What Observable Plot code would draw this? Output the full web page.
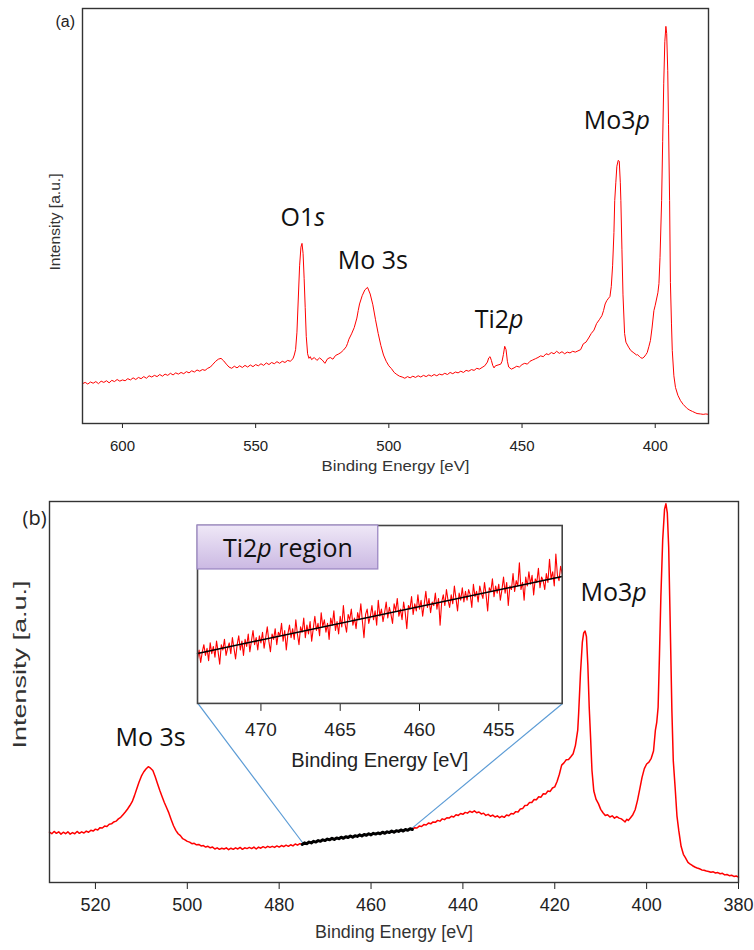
<!DOCTYPE html>
<html><head><meta charset="utf-8">
<script src="https://cdn.jsdelivr.net/npm/d3@7"></script>
<script src="https://cdn.jsdelivr.net/npm/@observablehq/plot@0.6"></script>
<style>
body{margin:0;background:#fff;}
#wrap{position:relative;width:754px;height:950px;overflow:hidden;background:#fff;}
</style></head><body><div id="wrap"></div>
<script>
// ---------- DATA ----------
const tickA = [600, 550, 500, 450, 400];
const tickB = [520, 500, 480, 460, 440, 420, 400, 380];
const tickInset = [470, 465, 460, 455];
const xLabel = "Binding Energy [eV]";
const yLabel = "Intensity [a.u.]";

// panel (a): [binding energy eV, intensity a.u.]
const specA = [[615,9.6],[614,9.9],[613,9.5],[612,10.0],[611,9.7],[610,10.1],[609,9.6],[608,10.2],[607,9.9],[606,10.3],[605,9.8],[604,10.4],[603,10.1],[602,10.6],[601,10.2],[600,10.5],[599,10.3],[598,10.8],[597,10.5],[596,11.0],[595,10.6],[594,11.1],[593,10.8],[592,11.3],[591,10.9],[590,11.5],[589,11.2],[588,11.6],[587,11.3],[586,11.8],[585,11.4],[584,11.9],[583,11.6],[582,12.1],[581,11.7],[580,12.2],[579,11.9],[578,12.3],[577,12.0],[576,12.5],[575,12.2],[574,12.7],[573,12.4],[572,12.9],[571,12.6],[570,13.0],[569,12.8],[568,13.3],[567,13.6],[566,14.3],[565,15.0],[564,15.5],[563,15.7],[562,15.1],[561,14.3],[560,13.6],[559,13.3],[558,13.8],[557,13.4],[556,13.9],[555,13.5],[554,14.0],[553,13.6],[552,14.1],[551,13.7],[550,14.2],[549,13.9],[548,14.4],[547,14.0],[546,14.6],[545,14.2],[544,14.7],[543,14.4],[542,14.9],[541,14.5],[540,15.0],[539,14.7],[538,15.2],[537,15.0],[536,15.6],[535.5,16.5],[535,17.8],[534.5,22],[534,30],[533.5,38],[533,42.5],[532.6,43.4],[532.2,41],[531.8,35],[531.4,28],[531,21],[530.5,16.8],[530,15.7],[529.5,16.1],[529,15.4],[528,15.9],[527,15.2],[526,15.8],[525,15.3],[524,14.5],[523,15.6],[522,15.9],[521,15.5],[520,16.4],[519,16.7],[518,17.1],[517,17.7],[516,18.5],[515.5,19.3],[515,20.3],[514,21.6],[513,23.1],[512,25.4],[511.5,27.2],[511,28.8],[510,30.8],[509,32.2],[508,32.8],[507,31.2],[506,28.6],[505,25.0],[504,21.7],[503,18.8],[502,16.5],[501,15.0],[500,13.9],[499,13.2],[498,12.3],[497,11.8],[496,11.4],[495,11.2],[494,10.9],[493,11.3],[492,11.0],[491,11.4],[490,11.1],[489,11.5],[488,11.2],[487,11.6],[486,11.3],[485,11.7],[484,11.4],[483,11.8],[482,11.5],[481,11.9],[480,11.7],[479,12.1],[478,11.8],[477,12.3],[476,12.0],[475,12.4],[474,12.2],[473,12.6],[472,12.3],[471,12.8],[470,12.6],[469,13.0],[468,12.8],[467,13.3],[466,13.1],[465,13.5],[464,13.9],[463,14.8],[462.5,15.8],[462,16.1],[461.5,15.2],[461,14.0],[460.5,13.4],[460,13.9],[459,14.1],[458,14.3],[457.5,15.0],[457,16.6],[456.5,18.6],[456,17.8],[455.5,15.0],[455,13.6],[454,13.1],[453,13.4],[452,13.8],[451,13.6],[450,14.2],[449,14.5],[448,14.3],[447,15.0],[446,15.3],[445,15.6],[444,15.9],[443,16.3],[442,16.1],[441,16.8],[440,16.6],[439,17.1],[438,16.8],[437,17.4],[436,16.9],[435,17.3],[434,16.8],[433,17.2],[432,17.0],[431,17.4],[430,17.2],[429,17.5],[428,17.8],[427,19.2],[426,19.6],[425,20.6],[424,21.7],[423,22.5],[422,24.1],[421,25.0],[420,26.0],[419.4,27.2],[418.8,28.8],[418.2,29.6],[417.5,30.2],[417,30.6],[416.5,33],[416,38],[415.5,46],[415.2,53.7],[414.8,58],[414.4,62],[413.9,63.4],[413.5,63.2],[413.1,58],[412.9,53.7],[412.5,42],[412.1,31],[411.5,21.7],[411,19.6],[410,18.4],[409.2,17.6],[408,17.0],[407,16.5],[406.7,16.6],[406,16.2],[405.5,15.9],[404.9,15.7],[404.2,16.0],[403.5,16.6],[403,17.1],[402.4,18.5],[401.8,20.0],[401.2,23.0],[400.5,27.2],[400,28.5],[399.5,30],[399,31.5],[398.6,33.7],[398.2,40],[397.6,53.7],[397.2,68],[396.8,82],[396.4,92],[396.0,95.7],[395.7,94],[395.3,85],[395,72],[394.6,53.7],[394.3,34],[393.9,24],[393.6,17.6],[393.0,11.5],[392.4,8.7],[391.5,6.8],[390.5,5.5],[389.5,4.6],[388,3.6],[387,3.2],[386,2.9],[385,2.6],[384.3,2.4],[383,2.3],[382,2.2],[381,2.3],[380,2.2]];

// panel (b): [binding energy eV, intensity a.u.]
const specB = [[530,13.2],[529.5,12.8],[529,13.4],[528.5,12.9],[528,13.3],[527.5,12.7],[527,13.2],[526.5,12.8],[526,13.3],[525.5,12.7],[525,13.1],[524.5,12.8],[524,13.4],[523.5,12.9],[523,13.3],[522.5,13.0],[522,13.5],[521.5,13.2],[521,13.7],[520.5,13.5],[520,14.0],[519.5,13.8],[519,14.4],[518.5,14.3],[518,14.8],[517.5,14.7],[517,15.3],[516.5,15.4],[516,15.9],[515.5,16.1],[515,16.7],[514.5,17.1],[514,17.8],[513.5,18.5],[513,19.3],[512.5,20.2],[512,21.2],[511.5,22.8],[511,24.6],[510.5,26.4],[510,27.9],[509.5,29.0],[509,29.8],[508.5,30.4],[508,30.0],[507.5,29.4],[507,27.8],[506.5,26.0],[506,24.2],[505.5,22.6],[505,21.0],[504.5,19.6],[504,18.2],[503.5,16.5],[503,14.9],[502.5,13.7],[502,12.8],[501.5,12.3],[501,11.5],[500.5,11.2],[500,10.8],[499.5,10.6],[499,10.2],[498.5,10.3],[498,9.9],[497.5,10.0],[497,9.6],[496.5,9.7],[496,9.3],[495.5,9.5],[495,9.1],[494.5,9.3],[494,8.8],[493.5,9.1],[493,8.7],[492.5,9.0],[492,8.8],[491.5,9.1],[491,8.6],[490.5,9.0],[490,8.7],[489.5,9.1],[489,8.8],[488.5,9.2],[488,8.7],[487.5,9.1],[487,8.9],[486.5,9.2],[486,8.9],[485.5,9.3],[485,8.8],[484.5,9.3],[484,9.0],[483.5,9.4],[483,9.1],[482.5,9.5],[482,9.2],[481.5,9.5],[481,9.2],[480.5,9.6],[480,9.3],[479.5,9.7],[479,9.4],[478.5,9.8],[478,9.5],[477.5,9.9],[477,9.6],[476.5,10.1],[476,9.8],[475.5,10.2],[475,10.0],[474.5,10.4],[474,10.2],[473.5,10.6],[473,10.4],[472.5,10.8],[472,10.6],[471.5,11.0],[471,10.8],[470.5,11.2],[470,11.0],[469.5,11.4],[469,11.2],[468.5,11.6],[468,11.3],[467.5,11.7],[467,11.5],[466.5,11.9],[466,11.6],[465.5,12.0],[465,11.8],[464.5,12.2],[464,11.9],[463.5,12.3],[463,12.1],[462.5,12.5],[462,12.2],[461.5,12.6],[461,12.4],[460.5,12.8],[460,12.5],[459.5,12.9],[459,12.7],[458.5,13.0],[458,12.8],[457.5,13.2],[457,12.9],[456.5,13.3],[456,13.1],[455.5,13.5],[455,13.2],[454.5,13.6],[454,13.4],[453.5,13.8],[453,13.5],[452.5,13.9],[452,13.7],[451.5,14.1],[451,13.9],[450.5,14.4],[450,14.3],[449.5,14.8],[449,14.7],[448.5,15.2],[448,15.1],[447.5,15.6],[447,15.4],[446.5,15.9],[446,15.8],[445.5,16.3],[445,16.1],[444.5,16.7],[444,16.5],[443.5,17.0],[443,16.9],[442.5,17.4],[442,17.2],[441.5,17.8],[441,17.6],[440.5,18.1],[440,17.9],[439.5,18.4],[439,18.2],[438.5,18.7],[438,18.4],[437.5,18.8],[437,18.3],[436.5,18.5],[436,18.0],[435.5,18.2],[435,17.6],[434.5,17.9],[434,17.4],[433.5,17.7],[433,17.2],[432.5,17.5],[432,17.0],[431.5,17.4],[431,17.1],[430.5,17.7],[430,17.5],[429.5,18.1],[429,18.0],[428.5,18.6],[428,18.5],[427.5,19.3],[427,19.4],[426.5,20.2],[426,20.3],[425.5,21.0],[425,21.0],[424.5,21.8],[424,21.7],[423.5,22.5],[423,22.4],[422.5,23.3],[422,23.2],[421.5,24.0],[421,23.9],[420.5,24.8],[420,25.1],[419.5,26.5],[419,28.4],[418.5,30.8],[418,31.4],[417.5,32.2],[417,32.3],[416.5,33.0],[416,33.8],[415.5,36.0],[415,40.0],[414.8,44.4],[414.4,55],[414.0,63],[413.7,65.5],[413.4,66.0],[413.1,64.5],[412.8,57],[412.5,46],[412.2,38],[411.9,29.4],[411.5,24.0],[411,21.8],[410.5,20.7],[410,19.2],[409.5,18.3],[409,17.6],[408.5,17.8],[408,17.2],[407.5,17.5],[407,16.9],[406.5,17.3],[406,16.9],[405.5,16.7],[405,16.2],[404.7,15.9],[404.3,16.6],[404,16.3],[403.5,17.0],[403,17.8],[402.5,19.1],[402,21.5],[401.5,24.5],[401,27.6],[400.5,29.9],[400,31.1],[399.5,31.6],[399,32.6],[398.5,34.5],[398.1,39.9],[397.8,42],[397.5,46],[397.2,60],[396.9,75],[396.5,90],[396.1,98],[395.8,99.4],[395.5,97],[395.2,88],[394.9,70],[394.5,45],[394.2,32],[393.8,25],[393.4,17.5],[393.0,13.6],[392.5,9.5],[392,7.4],[391.6,6.6],[391,5.3],[390.5,4.8],[390,4.4],[389.4,4.0],[389,3.8],[388.5,3.6],[388,3.3],[387.5,3.2],[387,3.0],[386.5,2.9],[386,2.7],[385.5,2.8],[385,2.5],[384.5,2.6],[384,2.3],[383.5,2.4],[383,2.0],[382.5,2.1],[382,1.8],[381.5,1.9],[381,1.6],[380.5,1.7],[380,1.4]];

// inset: Ti2p region (eV grid start / step, intensity values)
const insetStart = 474.0;
const insetStep = 0.1;
const insetVals = [
25,30,23,29,33,27,31,24,34,28, 32,26,35,29,22,33,30,36,27,31,
34,28,37,31,25,33,38,30,35,27, 36,32,39,29,35,41,33,37,30,38,
34,40,31,37,43,35,29,39,36,42, 33,40,38,45,35,41,30,39,44,37,
42,36,47,39,33,43,40,48,37,44, 39,46,35,42,49,41,45,38,51,43,
47,40,45,36,48,44,52,41,46,39, 49,43,55,45,40,50,47,53,44,48,
42,51,47,56,46,37,50,53,45,49, 55,47,52,44,58,49,53,46,51,57,
48,54,50,45,56,52,59,49,53,47, 57,51,42,55,53,60,50,56,52,61,
53,58,49,56,63,54,59,51,57,55, 62,53,59,44,57,61,55,64,58,54,
61,56,66,59,52,62,58,65,57,63, 58,64,61,54,67,60,63,57,66,62,
59,68,61,52,65,63,70,60,66,62, 67,58,64,71,62,68,55,66,64,73,
63,69,66,79,64,68,58,71,66,74, 67,72,61,70,68,76,65,71,69,64,
73,68,81,70,74,66,84,72,69,77, 73];
const fitLine = [{be: 474, i: 28.1}, {be: 451, i: 71.3}];
const fitRange = [451, 475];

// inset placement, in panel (b) data coordinates
const insetBox = {x1: 497.7, x2: 418.3, y1: 47.0, y2: 93.7};
const connectorEnds = [{be: 474.8, i: 10.3}, {be: 451.3, i: 14.0}];
const titleBox = {x1: 474, x2: 462.6, y1: 75.3, y2: 100};

const labelsA = [
  {be: 532.3, i: 49.6, text: "O1s"},
  {be: 506.0, i: 39.1, text: "Mo 3s"},
  {be: 458.6, i: 24.9, text: "Ti2p"},
  {be: 414.4, i: 72.8, text: "Mo3p"}
];
const labelsB = [
  {be: 508.0, i: 37.8, text: "Mo 3s"},
  {be: 407.2, i: 76.1, text: "Mo3p"}
];
const insetTitle = [{be: 468.3, i: 87, text: "Ti2p region"}];

// ---------- HELPERS ----------
const svgNS = "http://www.w3.org/2000/svg";
const arial = "Arial, 'Liberation Sans', sans-serif";
const sans = "'Open Sans', 'Noto Sans', sans-serif";
const wrap = document.getElementById("wrap");
function place(svg, left, top) {
  svg.style.position = "absolute";
  svg.style.left = left + "px";
  svg.style.top = top + "px";
  svg.style.background = "transparent";
  svg.style.maxWidth = "none";
  wrap.appendChild(svg);
}
function italicize(svg, full, parts) {
  svg.querySelectorAll("text").forEach(t => {
    if (t.textContent === full) {
      t.textContent = "";
      parts.forEach(([s, it]) => {
        const ts = document.createElementNS(svgNS, "tspan");
        if (it) ts.setAttribute("font-style", "italic");
        ts.textContent = s;
        t.appendChild(ts);
      });
    }
  });
}
function stretch(svg, txt, len) {
  svg.querySelectorAll("text").forEach(t => {
    if (t.textContent === txt) {
      t.setAttribute("textLength", len);
      t.setAttribute("lengthAdjust", "spacingAndGlyphs");
    }
  });
}
const A = specA.map(([be, i]) => ({be, i}));
const B = specB.map(([be, i]) => ({be, i}));
const Bfit = B.filter(d => d.be >= fitRange[0] && d.be <= fitRange[1]);
const inset = insetVals.map((v, k) => ({be: insetStart - k * insetStep, i: v}));

// ---------- PANEL (a) ----------
const plotA = Plot.plot({
  width: 754, height: 480,
  marginLeft: 82, marginRight: 46, marginTop: 8, marginBottom: 57,
  style: {fontFamily: arial, fontSize: "15px", color: "#222", background: "transparent"},
  x: {domain: [615, 380], ticks: tickA, tickSize: 5, tickPadding: 12, label: null},
  y: {domain: [0, 100], axis: null},
  marks: [
    Plot.line(A, {x: "be", y: "i", stroke: "#ff0000", strokeWidth: 1}),
    Plot.frame({stroke: "#333", strokeWidth: 1.4}),
    Plot.text(labelsA, {x: "be", y: "i", text: "text", fontFamily: sans, fontSize: 25, fill: "#111"}),
    Plot.text([yLabel], {frameAnchor: "left", rotate: -90, textAnchor: "start", dx: -27, dy: 54.5, fontSize: 14, fill: "#333"}),
    Plot.text([xLabel], {frameAnchor: "bottom", dy: 47, fontSize: 15, fill: "#333"}),
    Plot.text(["(a)"], {frameAnchor: "top-left", dx: -27, dy: 7, fontSize: 16, fill: "#222"})
  ]
});
italicize(plotA, "O1s", [["O1", false], ["s", true]]);
italicize(plotA, "Ti2p", [["Ti2", false], ["p", true]]);
italicize(plotA, "Mo3p", [["Mo3", false], ["p", true]]);
stretch(plotA, yLabel, 97);
stretch(plotA, xLabel, 148);
place(plotA, 0, 0);

// ---------- PANEL (b) ----------
const connectors = [
  {x1: insetBox.x1, y1: insetBox.y1, x2: connectorEnds[0].be, y2: connectorEnds[0].i},
  {x1: insetBox.x2, y1: insetBox.y1, x2: connectorEnds[1].be, y2: connectorEnds[1].i}
];
const plotB = Plot.plot({
  width: 754, height: 470,
  marginLeft: 49, marginRight: 16, marginTop: 21, marginBottom: 68,
  style: {fontFamily: arial, fontSize: "18px", color: "#222", background: "transparent"},
  x: {domain: [530, 380], ticks: tickB, tickSize: 7, tickPadding: 9, label: null},
  y: {domain: [0, 100], axis: null},
  marks: [
    Plot.link(connectors, {x1: "x1", y1: "y1", x2: "x2", y2: "y2", stroke: "#5b9bd5", strokeWidth: 1.2}),
    Plot.line(B, {x: "be", y: "i", stroke: "#ff0000", strokeWidth: 1.5}),
    Plot.line(Bfit, {x: "be", y: "i", stroke: "#000", strokeWidth: 3}),
    Plot.frame({stroke: "#333", strokeWidth: 1.4}),
    Plot.text(labelsB, {x: "be", y: "i", text: "text", fontFamily: sans, fontSize: 25, fill: "#111"}),
    Plot.text([yLabel], {frameAnchor: "left", rotate: -90, textAnchor: "start", dx: -29, dy: 56.5, fontSize: 18, fill: "#333"}),
    Plot.text([xLabel], {frameAnchor: "bottom", dy: 55, fontSize: 18, fill: "#333"}),
    Plot.text(["(b)"], {frameAnchor: "top-left", dx: -27, dy: 9, fontFamily: sans, fontSize: 20, fill: "#222"})
  ]
});
italicize(plotB, "Mo3p", [["Mo3", false], ["p", true]]);
stretch(plotB, yLabel, 168);
stretch(plotB, xLabel, 158);
place(plotB, 0, 480);

// ---------- INSET ----------
const sx = plotB.scale("x"), sy = plotB.scale("y");
const fL = sx.apply(insetBox.x1), fR = sx.apply(insetBox.x2);
const fT = sy.apply(insetBox.y2), fB = sy.apply(insetBox.y1);
const mL = 12, mR = 12, mT = 2, mB = 82;
const plotI = Plot.plot({
  width: (fR - fL) + mL + mR, height: (fB - fT) + mT + mB,
  marginLeft: mL, marginRight: mR, marginTop: mT, marginBottom: mB,
  style: {fontFamily: arial, fontSize: "19px", color: "#222", background: "transparent"},
  x: {domain: [474, 451], ticks: tickInset, tickSize: 8, tickPadding: 11, label: null},
  y: {domain: [0, 100], axis: null},
  marks: [
    Plot.frame({fill: "white"}),
    Plot.line(inset, {x: "be", y: "i", stroke: "#ff0000", strokeWidth: 1.1}),
    Plot.line(fitLine, {x: "be", y: "i", stroke: "#000", strokeWidth: 1.5}),
    Plot.frame({stroke: "#444", strokeWidth: 1.6}),
    Plot.rect([titleBox], {x1: "x1", x2: "x2", y1: "y1", y2: "y2", fill: "url(#tiGrad)", stroke: "#9c88c4", strokeWidth: 1.3}),
    Plot.text(insetTitle, {x: "be", y: "i", text: "text", fontFamily: sans, fontSize: 25, fill: "#111"}),
    Plot.text([xLabel], {frameAnchor: "bottom", dy: 64, fontSize: 19.5, fill: "#222"})
  ]
});
plotI.insertAdjacentHTML("afterbegin",
  '<defs><linearGradient id="tiGrad" x1="0" y1="0" x2="0" y2="1">' +
  '<stop offset="0" stop-color="#efe8f7"/><stop offset="1" stop-color="#cbb9e3"/>' +
  '</linearGradient></defs>');
italicize(plotI, "Ti2p region", [["Ti2", false], ["p", true], [" region", false]]);
stretch(plotI, xLabel, 177);
place(plotI, fL - mL, 480 + fT - mT);
</script></body></html>
